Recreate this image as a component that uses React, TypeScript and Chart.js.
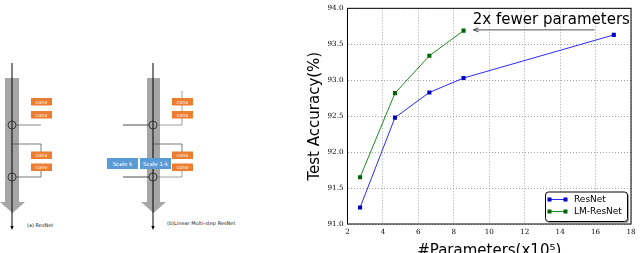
import React, { useEffect, useRef } from "react";
import { Chart, registerables } from "chart.js";

Chart.register(...registerables);

// ---- data ----
const seriesLabels = ["ResNet", "LM-ResNet"];
const paramsResNet = [2.71, 4.68, 6.62, 8.55, 17.03];
const accResNet = [91.23, 92.48, 92.83, 93.03, 93.63];
const paramsLM = [2.71, 4.68, 6.62, 8.55];
const accLM = [91.65, 92.82, 93.34, 93.69];
const xTicks = [2, 4, 6, 8, 10, 12, 14, 16, 18];
const yTicks = [91.0, 91.5, 92.0, 92.5, 93.0, 93.5, 94.0];
const annotationText = "2x fewer parameters";
const annotationTextAt = [9.07, 93.83];
const arrowFrom = [15.94, 93.7];
const arrowTo = [9.11, 93.7];

const seriesColors = ["#2a2aff", "#1f8a1f"];
const markerColors = ["#0000c0", "#006400"];

const framePlugin = {
  id: "frame",
  beforeDatasetsDraw(chart: any) {
    const { ctx, chartArea: a } = chart;
    ctx.save();
    ctx.strokeStyle = "#000";
    ctx.lineWidth = 1;
    ctx.strokeRect(a.left, a.top, a.right - a.left, a.bottom - a.top);
    ctx.restore();
  },
};

const annotationPlugin = {
  id: "arrowNote",
  afterDatasetsDraw(chart: any) {
    const { ctx, scales } = chart;
    const x = scales.x, y = scales.y;
    ctx.save();
    ctx.fillStyle = "#000";
    ctx.font = "15px 'DejaVu Sans'";
    ctx.textAlign = "left";
    ctx.textBaseline = "middle";
    ctx.fillText(annotationText, x.getPixelForValue(annotationTextAt[0]), y.getPixelForValue(annotationTextAt[1]));
    const x1 = x.getPixelForValue(arrowFrom[0]);
    const y1 = y.getPixelForValue(arrowFrom[1]);
    const x2 = x.getPixelForValue(arrowTo[0]);
    const y2 = y.getPixelForValue(arrowTo[1]);
    ctx.strokeStyle = "#222";
    ctx.lineWidth = 0.8;
    ctx.beginPath();
    ctx.moveTo(x1, y1);
    ctx.lineTo(x2, y2);
    ctx.moveTo(x2 + 5, y2 - 2);
    ctx.lineTo(x2, y2);
    ctx.lineTo(x2 + 5, y2 + 2);
    ctx.stroke();
    ctx.restore();
  },
};

const legendPlugin = {
  id: "boxLegend",
  afterDraw(chart: any) {
    const { ctx, chartArea: a } = chart;
    const w = 82, h = 29.5;
    const bx = a.right - 3.5 - w;
    const by = a.bottom - 2.5 - h;
    ctx.save();
    ctx.fillStyle = "rgba(0,0,0,0.35)";
    ctx.beginPath();
    ctx.roundRect(bx + 1.5, by + 1.5, w, h, 3);
    ctx.fill();
    ctx.fillStyle = "#fff";
    ctx.strokeStyle = "#000";
    ctx.lineWidth = 1;
    ctx.beginPath();
    ctx.roundRect(bx, by, w, h, 3);
    ctx.fill();
    ctx.stroke();
    chart.data.datasets.forEach((ds: any, i: number) => {
      const ly = by + 7.5 + i * 12;
      const lx1 = bx + 4, lx2 = bx + 20;
      ctx.strokeStyle = ds.borderColor;
      ctx.lineWidth = 1;
      ctx.beginPath();
      ctx.moveTo(lx1, ly);
      ctx.lineTo(lx2, ly);
      ctx.stroke();
      ctx.fillStyle = ds.pointBackgroundColor;
      ctx.fillRect(lx1 - 2, ly - 2, 4, 4);
      ctx.fillRect(lx2 - 2, ly - 2, 4, 4);
      ctx.fillStyle = "#000";
      ctx.font = "9px 'DejaVu Sans'";
      ctx.textAlign = "left";
      ctx.textBaseline = "middle";
      ctx.fillText(ds.label, bx + 28.5, ly);
    });
    ctx.restore();
  },
};

function AccuracyChart() {
  const ref = useRef<HTMLCanvasElement | null>(null);
  useEffect(() => {
    if (!ref.current) return;
    const mk = (xs: number[], ys: number[]) => xs.map((v, i) => ({ x: v, y: ys[i] }));
    const chart = new Chart(ref.current, {
      type: "scatter",
      data: {
        datasets: [
          {
            label: seriesLabels[0],
            data: mk(paramsResNet, accResNet),
            showLine: true,
            borderColor: seriesColors[0],
            borderWidth: 1,
            pointStyle: "rect",
            pointRadius: 2.9,
            pointBorderWidth: 0,
            pointBackgroundColor: markerColors[0],
          },
          {
            label: seriesLabels[1],
            data: mk(paramsLM, accLM),
            showLine: true,
            borderColor: seriesColors[1],
            borderWidth: 1,
            pointStyle: "rect",
            pointRadius: 2.9,
            pointBorderWidth: 0,
            pointBackgroundColor: markerColors[1],
          },
        ],
      },
      options: {
        animation: false,
        responsive: false,
        devicePixelRatio: 1,
        layout: { padding: { top: 5.5, right: 9, left: 0, bottom: 0 } },
        plugins: { legend: { display: false }, tooltip: { enabled: false } },
        scales: {
          x: {
            type: "linear",
            min: 2,
            max: 18,
            afterBuildTicks: (s: any) => {
              s.ticks = xTicks.map((v) => ({ value: v }));
            },
            afterFit: (s: any) => {
              s.height = 38;
            },
            ticks: {
              font: { family: "'DejaVu Serif'", size: 7.2 },
              color: "#000",
              padding: 4,
              maxRotation: 0,
              callback: (v: any) => String(v),
            },
            grid: { color: "#8c8c8c", lineWidth: 0.8, drawTicks: false },
            border: { display: false, dash: [1, 2] },
            title: {
              display: true,
              text: "#Parameters(x10\u2075)",
              font: { family: "'DejaVu Sans'", size: 15 },
              color: "#000",
              padding: { top: 0, bottom: 2 },
            },
          },
          y: {
            type: "linear",
            min: 91,
            max: 94,
            afterBuildTicks: (s: any) => {
              s.ticks = yTicks.map((v) => ({ value: v }));
            },
            afterFit: (s: any) => {
              s.width = 67.5;
            },
            ticks: {
              font: { family: "'DejaVu Serif'", size: 7.2 },
              color: "#000",
              padding: 4,
              callback: (v: any) => Number(v).toFixed(1),
            },
            grid: { color: "#8c8c8c", lineWidth: 0.8, drawTicks: false },
            border: { display: false, dash: [1, 2] },
            title: {
              display: true,
              text: "Test Accuracy(%)",
              font: { family: "'DejaVu Sans'", size: 15 },
              color: "#000",
              padding: { top: 26, bottom: 0 },
            },
          },
        },
      },
      plugins: [framePlugin, annotationPlugin, legendPlugin],
    } as any);
    return () => chart.destroy();
  }, []);
  return (
    <canvas
      ref={ref}
      width={360}
      height={262}
      style={{ position: "absolute", left: 280, top: 0, width: 360, height: 262 }}
    />
  );
}

function Conv({ x, y }: { x: number; y: number }) {
  return (
    <g>
      <rect x={x} y={y} width={21} height={7.5} fill="#ed7d31" />
      <text x={x + 10.5} y={y + 5.6} fontSize={5} fill="#fff" textAnchor="middle" fontFamily="DejaVu Sans">
        conv
      </text>
    </g>
  );
}

function Diagram() {
  const convYs = [98, 111, 151.5, 163.5];
  return (
    <svg width={270} height={253} style={{ position: "absolute", left: 0, top: 0 }}>
      {/* (a) ResNet */}
      <rect x={5} y={78} width={14} height={124} fill="#a6a6a6" />
      <polygon points="0,202 25,202 12.5,213" fill="#a6a6a6" />
      <line x1={12} y1={63} x2={12} y2={227} stroke="#000" strokeWidth={1} />
      <polygon points="10.3,226 13.7,226 12,230" fill="#000" />
      <circle cx={12} cy={125} r={4} fill="none" stroke="#222" strokeWidth={0.8} />
      <circle cx={12} cy={177} r={4} fill="none" stroke="#222" strokeWidth={0.8} />
      <line x1={16} y1={125} x2={41} y2={125} stroke="#555" strokeWidth={0.7} />
      <polyline points="12,144 41,144 41,152" fill="none" stroke="#444" strokeWidth={0.7} />
      <polyline points="16,177 41,177 41,171" fill="none" stroke="#444" strokeWidth={0.7} />
      {convYs.map((y, i) => (
        <Conv key={"a" + i} x={31} y={y} />
      ))}
      <text x={27} y={227} fontSize={5} fill="#222" fontFamily="DejaVu Sans">
        (a) ResNet
      </text>

      {/* (b) LM-ResNet */}
      <rect x={147} y={78} width={13} height={124} fill="#a6a6a6" />
      <polygon points="141,202 166,202 153.5,213" fill="#a6a6a6" />
      <line x1={153} y1={63} x2={153} y2={227} stroke="#000" strokeWidth={1} />
      <polygon points="151.3,226 154.7,226 153,230" fill="#000" />
      <circle cx={153} cy={125} r={4} fill="none" stroke="#222" strokeWidth={0.8} />
      <circle cx={153} cy={177} r={4} fill="none" stroke="#222" strokeWidth={0.8} />
      <line x1={123} y1={125} x2={149} y2={125} stroke="#222" strokeWidth={0.8} />
      <line x1={123} y1={177} x2={149} y2={177} stroke="#222" strokeWidth={0.8} />
      <polyline points="182,91 182,125 157,125" fill="none" stroke="#777" strokeWidth={0.7} />
      <polyline points="153,144 182,144 182,152" fill="none" stroke="#444" strokeWidth={0.7} />
      <polyline points="157,177 182,177 182,171" fill="none" stroke="#777" strokeWidth={0.7} />
      {convYs.map((y, i) => (
        <Conv key={"b" + i} x={172} y={y} />
      ))}
      <rect x={107} y={158} width={31} height={11} fill="#5b9bd5" />
      <text x={122.5} y={165.5} fontSize={5.5} fill="#fff" textAnchor="middle" fontFamily="DejaVu Sans">
        Scale k
      </text>
      <rect x={140} y={158} width={31} height={11} fill="#5b9bd5" />
      <text x={155.5} y={165.5} fontSize={5.5} fill="#fff" textAnchor="middle" fontFamily="DejaVu Sans">
        Scale 1-k
      </text>
      <text x={167} y={225} fontSize={5} fill="#222" fontFamily="DejaVu Sans">
        (b)Linear Multi-step ResNet
      </text>
    </svg>
  );
}

export default function App() {
  return (
    <div
      style={{
        position: "fixed",
        left: 0,
        top: 0,
        width: 640,
        height: 253,
        overflow: "hidden",
        background: "#fff",
      }}
    >
      <Diagram />
      <AccuracyChart />
    </div>
  );
}
